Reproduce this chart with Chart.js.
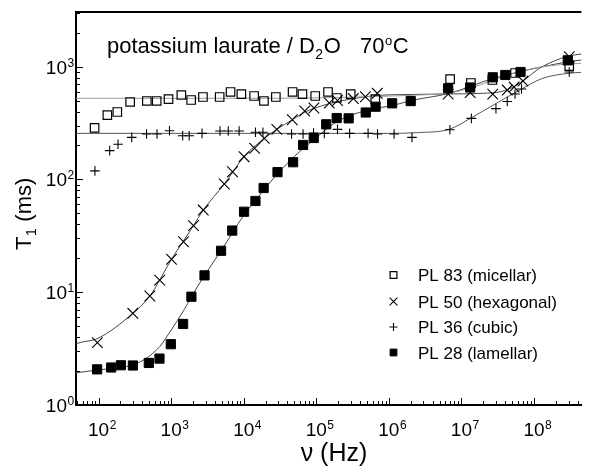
<!DOCTYPE html>
<html><head><meta charset="utf-8">
<script src="https://cdn.jsdelivr.net/npm/chart.js@4/dist/chart.umd.min.js"></script>
<style>html,body{margin:0;padding:0;background:#fff}#wrap{width:590px;height:472px;position:relative}</style>
</head><body><div id="wrap"><canvas id="c" width="590" height="472"></canvas></div>
<script>
// ---- measured data (frequency in Hz, T1 in ms) ----
const micellarFreq = [88, 132, 181, 272, 462, 632, 919, 1380, 1885, 2740, 4660, 6580, 9270, 13900, 19000, 27700, 47100, 64400, 96600, 145000, 192000, 298000, 650000, 6.98e6, 1.35e7, 2.67e7, 5.48e7, 3.06e8];
const micellarT1   = [286, 372, 396, 486, 496, 496, 516, 560, 506, 538, 538, 596, 571, 549, 496, 538, 596, 571, 549, 596, 527, 571, 516, 776, 716, 761, 878, 1012];

const hexFreq = [96, 296, 508, 694, 1010, 1480, 2030, 2770, 5400, 7000, 10100, 14100, 19200, 28600, 46700, 69200, 92700, 151000, 196000, 324000, 475000, 692000, 6.56e6, 1.32e7, 2.70e7, 4.28e7, 5.32e7, 7.05e7, 3.06e8];
const hexT1   = [3.57, 6.50, 9.25, 12.8, 19.6, 28.0, 38.9, 53.5, 91.0, 117, 159, 189, 231, 278, 338, 404, 430, 476, 501, 521, 541, 580, 571, 589, 571, 620, 659, 745, 1224];

const cubicFreq = [89, 142, 185, 286, 458, 638, 948, 1440, 1770, 2660, 4710, 6120, 8640, 14500, 18400, 45600, 65700, 91600, 129000, 196000, 288000, 517000, 698000, 1.18e6, 2.08e6, 6.93e6, 1.37e7, 2.99e7, 4.28e7, 5.48e7, 6.73e7, 3.06e8];
const cubicT1   = [119, 180, 205, 236, 253, 253, 270, 244, 244, 256, 269, 269, 269, 262, 262, 253, 253, 258, 256, 278, 256, 256, 253, 253, 236, 276, 348, 424, 491, 571, 633, 896];

const lamFreq = [95.4, 149, 203, 297, 492, 690, 989, 1460, 1900, 2880, 4870, 6940, 10100, 14500, 18800, 29200, 47900, 65800, 92200, 137000, 191000, 279000, 480000, 656000, 1.11e6, 2.0e6, 6.56e6, 1.32e7, 2.70e7, 4.02e7, 6.52e7, 2.92e8];
const lamT1   = [2.07, 2.15, 2.25, 2.24, 2.36, 2.58, 3.46, 5.23, 9.12, 14.1, 23.3, 35.2, 51.7, 64.4, 83.9, 116, 142, 202, 233, 308, 350, 348, 392, 441, 473, 495, 642, 653, 804, 843, 896, 1137];

// ---- fitted curves ----
const micellarFitFreq = [48.8, 1e4, 1e5, 1e6, 3e6, 6.8e6, 1.5e7, 2.76e7, 7.7e7, 1.5e8, 3e8, 4.5e8];
const micellarFitT1   = [524, 524, 528, 548, 562, 585, 660, 761, 933, 1010, 1055, 1070];

const hexFitFreq = [48.8, 58, 97.7, 296, 508, 1010, 2030, 2770, 5400, 1.01e4, 1.92e4, 2.86e4, 4.67e4, 6.92e4, 9.27e4, 1.5e5, 3.2e5, 6.9e5, 1.5e6, 6.6e6, 2.0e7, 3.5e7, 5.3e7, 7.8e7, 1.19e8, 1.8e8, 3.03e8, 4.5e8];
const hexFitT1   = [3.5, 3.6, 3.9, 6.5, 9.25, 19.6, 38.9, 53.5, 91, 159, 231, 278, 338, 395, 425, 470, 520, 555, 565, 572, 580, 600, 665, 787, 966, 1105, 1242, 1294];

const cubicFitFreq = [48.8, 1e5, 1e6, 2.5e6, 6.76e6, 1.33e7, 2.76e7, 6.35e7, 1.31e8, 3.03e8, 4.5e8];
const cubicFitT1   = [256, 256, 256, 260, 278, 348, 457, 620, 787, 873, 890];

const lamFitFreq = [48.8, 100, 200, 296, 434, 693, 1000, 1510, 1900, 2880, 4870, 1e4, 1.88e4, 2.9e4, 5e4, 1e5, 2e5, 5e5, 1.2e6, 2e6, 6.8e6, 2.76e7, 6.35e7, 1.31e8, 3e8, 4.5e8];
const lamFitT1   = [1.93, 2.05, 2.15, 2.27, 2.55, 3.29, 4.62, 7.0, 9.12, 14.1, 23.3, 48, 80, 112, 160, 235, 330, 410, 457, 499, 580, 787, 901, 998, 1105, 1145];

const legendLabels = ['PL 83 (micellar)', 'PL 50 (hexagonal)', 'PL 36 (cubic)', 'PL 28 (lamellar)'];
const xTickExps = [2, 3, 4, 5, 6, 7, 8];
const yTickExps = [0, 1, 2, 3];

const FONT = '"Liberation Sans", Arial, Helvetica, sans-serif';
const pts = (xs, ys) => xs.map((v, i) => ({x: v, y: ys[i]}));

const markerDefs = [
  {pointStyle: 'rect', pointRadius: 6, borderColor: '#000', backgroundColor: 'rgba(255,255,255,0)', borderWidth: 1.2},
  {pointStyle: 'crossRot', pointRadius: 7.5, borderColor: '#000', backgroundColor: '#000', borderWidth: 1.1},
  {pointStyle: 'cross', pointRadius: 4.8, borderColor: '#000', backgroundColor: '#000', borderWidth: 1.1},
  {pointStyle: 'rect', pointRadius: 6.5, borderColor: '#000', backgroundColor: '#000', borderWidth: 1}
];

function scatterSet(label, xs, ys, m) {
  return Object.assign({type: 'scatter', label, data: pts(xs, ys), showLine: false, pointHoverRadius: m.pointRadius}, m);
}
function fitSet(xs, ys, color) {
  return {type: 'line', label: '', data: pts(xs, ys), borderColor: color, borderWidth: 1,
          pointRadius: 0, fill: false, cubicInterpolationMode: 'monotone'};
}

function drawPow(ctx, x, y, exp, mode) {
  ctx.fillStyle = '#000';
  ctx.font = '19px ' + FONT;
  ctx.textBaseline = 'alphabetic';
  const w = ctx.measureText('10').width;
  let left, base;
  if (mode === 'x') { left = x - w / 2; base = y; }
  else { left = x - w; base = y + 7; }
  ctx.textAlign = 'left';
  ctx.fillText('10', left, base);
  ctx.font = '12px ' + FONT;
  ctx.fillText(String(exp), left + w + 0.5, base - 7);
}

const deco = {
  id: 'deco',
  afterDraw(chart) {
    const {ctx, chartArea: a} = chart;
    const xs = chart.scales.x, ys = chart.scales.y;
    ctx.save();
    ctx.strokeStyle = '#000';
    ctx.lineWidth = 2;
    ctx.beginPath(); ctx.moveTo(a.left - 1, a.top); ctx.lineTo(a.right, a.top); ctx.stroke();
    ctx.lineWidth = 1;
    for (let n = -1; n <= 4; n++) for (let k = 1; k <= 9; k++) {
      const v = k * Math.pow(10, n);
      if (v < ys.min || v > ys.max) continue;
      const py = Math.round(ys.getPixelForValue(v)) + 0.5;
      const len = k === 1 ? 7 : 4;
      ctx.beginPath(); ctx.moveTo(a.left, py); ctx.lineTo(a.left + len, py); ctx.stroke();
    }
    for (let n = 0; n <= 9; n++) for (let k = 1; k <= 9; k++) {
      const v = k * Math.pow(10, n);
      if (v < xs.min || v > xs.max) continue;
      const px = Math.round(xs.getPixelForValue(v)) + 0.5;
      const len = k === 1 ? 7 : 4;
      ctx.beginPath(); ctx.moveTo(px, a.bottom); ctx.lineTo(px, a.bottom - len); ctx.stroke();
    }
    yTickExps.forEach(e => drawPow(ctx, 67, ys.getPixelForValue(Math.pow(10, e)), e, 'y'));
    xTickExps.forEach(e => drawPow(ctx, xs.getPixelForValue(Math.pow(10, e)), 436, e, 'x'));

    ctx.fillStyle = '#000';
    ctx.textAlign = 'left';
    ctx.textBaseline = 'alphabetic';
    ctx.font = '25px ' + FONT;
    const xt = '\u03BD (Hz)';
    const xtw = ctx.measureText(xt).width;
    ctx.fillText(xt, 334 - xtw / 2, 461);

    ctx.save();
    ctx.translate(31, 250);
    ctx.rotate(-Math.PI / 2);
    ctx.font = '22px ' + FONT;
    ctx.fillText('T', 0, 0);
    let cx = ctx.measureText('T').width;
    ctx.font = '14px ' + FONT;
    ctx.fillText('1', cx + 0.5, 5);
    cx += ctx.measureText('1').width + 1;
    ctx.font = '22px ' + FONT;
    ctx.fillText(' (ms)', cx, 0);
    ctx.restore();

    ctx.font = '22px ' + FONT;
    let tx = 107;
    const t1 = 'potassium laurate / D';
    ctx.fillText(t1, tx, 53); tx += ctx.measureText(t1).width;
    ctx.font = '14px ' + FONT;
    ctx.fillText('2', tx + 0.5, 59); tx += ctx.measureText('2').width + 1;
    ctx.font = '22px ' + FONT;
    ctx.fillText('O', tx, 53);
    tx = 360;
    ctx.fillText('70', tx, 53); tx += ctx.measureText('70').width;
    ctx.font = '13px ' + FONT;
    ctx.fillText('o', tx + 0.5, 45); tx += ctx.measureText('o').width + 1;
    ctx.font = '22px ' + FONT;
    ctx.fillText('C', tx, 53);

    const rows = [275, 301.5, 327, 352.5];
    ctx.font = '17px ' + FONT;
    for (let i = 0; i < 4; i++) {
      const m = markerDefs[i];
      ctx.strokeStyle = m.borderColor;
      ctx.fillStyle = m.backgroundColor;
      ctx.lineWidth = m.borderWidth;
      const r = m.pointStyle === 'crossRot' ? 5.5 : (m.pointStyle === 'cross' ? 4 : 4.8);
      Chart.helpers.drawPoint(ctx, {pointStyle: m.pointStyle, radius: r, rotation: 0, borderWidth: m.borderWidth}, 393.5, rows[i]);
      ctx.fillStyle = '#000';
      ctx.fillText(legendLabels[i], 418, rows[i] + 6);
    }
    ctx.restore();
  }
};

new Chart(document.getElementById('c'), {
  data: {
    datasets: [
      scatterSet(legendLabels[0], micellarFreq, micellarT1, markerDefs[0]),
      scatterSet(legendLabels[1], hexFreq, hexT1, markerDefs[1]),
      scatterSet(legendLabels[2], cubicFreq, cubicT1, markerDefs[2]),
      scatterSet(legendLabels[3], lamFreq, lamT1, markerDefs[3]),
      fitSet(micellarFitFreq, micellarFitT1, '#9a9a9a'),
      fitSet(hexFitFreq, hexFitT1, '#444'),
      fitSet(cubicFitFreq, cubicFitT1, '#555'),
      fitSet(lamFitFreq, lamFitT1, '#444')
    ]
  },
  options: {
    responsive: false,
    devicePixelRatio: 1,
    animation: false,
    layout: {padding: {top: 12, right: 0, left: 0, bottom: 0}},
    plugins: {legend: {display: false}, tooltip: {enabled: false}},
    scales: {
      x: {type: 'logarithmic', position: 'bottom', min: 48.8, max: 4.5e8,
          grid: {display: false, drawTicks: false},
          border: {display: true, color: '#000', width: 2},
          ticks: {display: false},
          afterFit: s => { s.height = 67; }},
      y: {type: 'logarithmic', position: 'left', min: 1, max: 3050,
          grid: {display: false, drawTicks: false},
          border: {display: true, color: '#000', width: 2},
          ticks: {display: false},
          afterFit: s => { s.width = 76; }}
    }
  },
  plugins: [deco]
});
</script>
</body></html>
